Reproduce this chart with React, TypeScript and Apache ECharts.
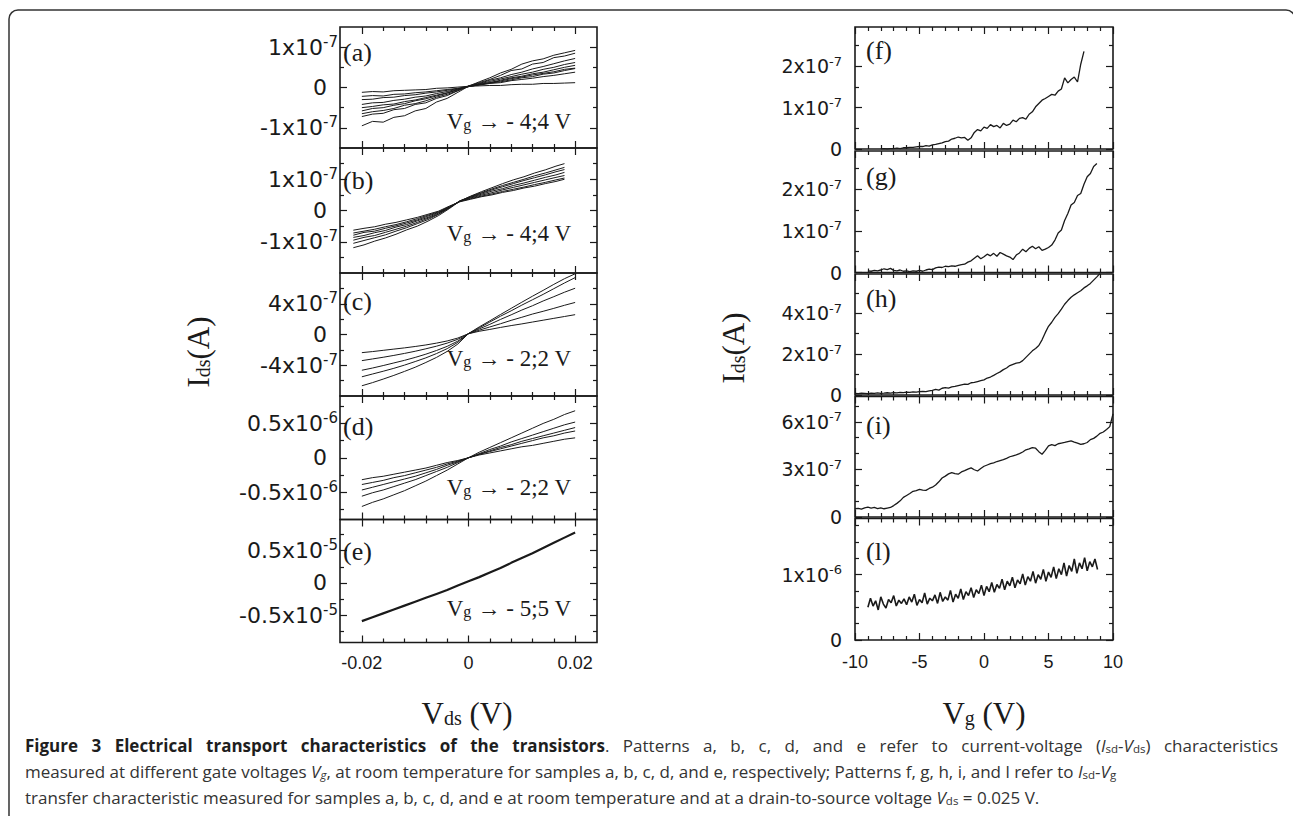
import { useEffect, useRef } from "react";
import * as echarts from "echarts";

// ---------------- data ----------------
// drain-source voltage samples (V) for panels a, c, d, e
const VDS = [-0.02, -0.018, -0.016, -0.014, -0.012, -0.01, -0.008, -0.006, -0.004, -0.002, 0, 0.002, 0.004, 0.006, 0.008, 0.01, 0.012, 0.014, 0.016, 0.018, 0.02];
// panel b samples (V)
const VDS_B = [-0.0216, -0.0196, -0.0176, -0.0156, -0.0136, -0.0116, -0.0096, -0.0076, -0.0056, -0.0036, -0.0016, 0.0004, 0.0024, 0.0044, 0.0064, 0.0084, 0.0104, 0.0124, 0.0144, 0.0164, 0.018];
const VDS_MAJOR = [-0.02, 0, 0.02];
const VDS_MINOR = [-0.016, -0.012, -0.008, -0.004, 0.004, 0.008, 0.012, 0.016];

// gate voltage samples (V) for panels f..i
const VG = [-10, -9.75, -9.5, -9.25, -9, -8.75, -8.5, -8.25, -8, -7.75, -7.5, -7.25, -7, -6.75, -6.5, -6.25, -6, -5.75, -5.5, -5.25, -5, -4.75, -4.5, -4.25, -4, -3.75, -3.5, -3.25, -3, -2.75, -2.5, -2.25, -2, -1.75, -1.5, -1.25, -1, -0.75, -0.5, -0.25, 0, 0.25, 0.5, 0.75, 1, 1.25, 1.5, 1.75, 2, 2.25, 2.5, 2.75, 3, 3.25, 3.5, 3.75, 4, 4.25, 4.5, 4.75, 5, 5.25, 5.5, 5.75, 6, 6.25, 6.5, 6.75, 7, 7.25, 7.5, 7.75, 8, 8.25, 8.5, 8.75, 9, 9.25, 9.5, 9.75, 10];
// gate voltage samples (V) for panel l
const VL = [-9, -8.8, -8.6, -8.4, -8.2, -8, -7.8, -7.6, -7.4, -7.2, -7, -6.8, -6.6, -6.4, -6.2, -6, -5.8, -5.6, -5.4, -5.2, -5, -4.8, -4.6, -4.4, -4.2, -4, -3.8, -3.6, -3.4, -3.2, -3, -2.8, -2.6, -2.4, -2.2, -2, -1.8, -1.6, -1.4, -1.2, -1, -0.8, -0.6, -0.4, -0.2, 0, 0.2, 0.4, 0.6, 0.8, 1, 1.2, 1.4, 1.6, 1.8, 2, 2.2, 2.4, 2.6, 2.8, 3, 3.2, 3.4, 3.6, 3.8, 4, 4.2, 4.4, 4.6, 4.8, 5, 5.2, 5.4, 5.6, 5.8, 6, 6.2, 6.4, 6.6, 6.8, 7, 7.2, 7.4, 7.6, 7.8, 8, 8.2, 8.4, 8.6, 8.8];
const VG_MAJOR = [-10, -5, 0, 5, 10];
const VG_MINOR = [-9, -8, -7, -6, -4, -3, -2, -1, 1, 2, 3, 4, 6, 7, 8, 9];

// (a) Ids in 1e-7 A
const A_CURVES = [
  [-0.12, -0.10, -0.11, -0.08, -0.07, -0.06, -0.05, -0.02, -0.01, 0.01, 0.03, 0.04, 0.05, 0.05, 0.07, 0.08, 0.08, 0.10, 0.10, 0.11, 0.12],
  [-0.22, -0.20, -0.21, -0.17, -0.16, -0.13, -0.11, -0.08, -0.05, -0.02, 0.03, 0.06, 0.10, 0.12, 0.17, 0.20, 0.23, 0.27, 0.30, 0.34, 0.38],
  [-0.30, -0.29, -0.25, -0.24, -0.20, -0.18, -0.14, -0.11, -0.07, -0.03, 0.02, 0.07, 0.11, 0.14, 0.19, 0.24, 0.27, 0.33, 0.36, 0.42, 0.47],
  [-0.42, -0.38, -0.37, -0.32, -0.29, -0.24, -0.21, -0.15, -0.10, -0.04, 0.03, 0.08, 0.12, 0.18, 0.24, 0.28, 0.34, 0.38, 0.44, 0.50, 0.55],
  [-0.50, -0.47, -0.43, -0.41, -0.35, -0.31, -0.25, -0.19, -0.13, -0.05, 0.03, 0.09, 0.15, 0.21, 0.27, 0.33, 0.38, 0.45, 0.50, 0.57, 0.62],
  [-0.58, -0.52, -0.50, -0.44, -0.40, -0.33, -0.28, -0.21, -0.14, -0.06, 0.02, 0.07, 0.12, 0.16, 0.22, 0.26, 0.31, 0.35, 0.39, 0.45, 0.48],
  [-0.65, -0.60, -0.57, -0.52, -0.44, -0.40, -0.33, -0.24, -0.17, -0.08, 0.03, 0.10, 0.18, 0.24, 0.32, 0.38, 0.46, 0.52, 0.59, 0.66, 0.72],
  [-0.72, -0.66, -0.64, -0.55, -0.52, -0.42, -0.38, -0.27, -0.20, -0.08, 0.04, 0.12, 0.20, 0.30, 0.42, 0.46, 0.58, 0.62, 0.74, 0.78, 0.85],
  [-0.95, -0.84, -0.86, -0.74, -0.70, -0.58, -0.52, -0.36, -0.27, -0.12, 0.03, 0.14, 0.24, 0.36, 0.45, 0.58, 0.66, 0.71, 0.80, 0.86, 0.92],
];
// (b) Ids in 1e-7 A
const B_CURVES = [
  [-0.63, -0.57, -0.52, -0.44, -0.38, -0.30, -0.22, -0.12, -0.02, 0.14, 0.28, 0.36, 0.44, 0.50, 0.58, 0.64, 0.72, 0.78, 0.86, 0.93, 1.00],
  [-0.72, -0.66, -0.60, -0.52, -0.45, -0.36, -0.26, -0.15, -0.04, 0.12, 0.29, 0.38, 0.46, 0.53, 0.61, 0.68, 0.75, 0.83, 0.90, 0.98, 1.04],
  [-0.79, -0.70, -0.66, -0.57, -0.49, -0.40, -0.30, -0.18, -0.06, 0.10, 0.30, 0.40, 0.49, 0.57, 0.66, 0.74, 0.82, 0.90, 0.98, 1.06, 1.12],
  [-0.86, -0.80, -0.71, -0.64, -0.53, -0.45, -0.33, -0.22, -0.08, 0.10, 0.31, 0.42, 0.52, 0.62, 0.70, 0.80, 0.88, 0.97, 1.06, 1.14, 1.22],
  [-0.95, -0.86, -0.80, -0.70, -0.60, -0.50, -0.38, -0.25, -0.11, 0.09, 0.30, 0.43, 0.55, 0.66, 0.76, 0.86, 0.96, 1.05, 1.14, 1.24, 1.31],
  [-1.05, -0.96, -0.87, -0.78, -0.66, -0.55, -0.42, -0.29, -0.12, 0.08, 0.31, 0.45, 0.57, 0.69, 0.80, 0.90, 1.00, 1.11, 1.20, 1.30, 1.38],
  [-1.19, -1.10, -0.98, -0.88, -0.76, -0.62, -0.50, -0.34, -0.16, 0.06, 0.30, 0.46, 0.60, 0.73, 0.86, 0.98, 1.08, 1.20, 1.30, 1.42, 1.50],
];
// (c) Ids in 1e-7 A
const C_CURVES = [
  [-2.36, -2.22, -2.06, -1.90, -1.74, -1.56, -1.36, -1.12, -0.84, -0.46, 0.10, 0.42, 0.66, 0.92, 1.16, 1.38, 1.62, 1.86, 2.10, 2.34, 2.58],
  [-3.40, -3.18, -2.96, -2.72, -2.46, -2.18, -1.86, -1.52, -1.12, -0.62, 0.10, 0.56, 0.98, 1.40, 1.84, 2.24, 2.66, 3.02, 3.40, 3.80, 4.17],
  [-4.65, -4.36, -4.04, -3.70, -3.36, -2.98, -2.56, -2.08, -1.54, -0.86, 0.12, 0.72, 1.32, 1.96, 2.56, 3.18, 3.74, 4.36, 4.92, 5.50, 6.02],
  [-5.50, -5.14, -4.78, -4.40, -3.98, -3.52, -3.04, -2.48, -1.84, -1.02, 0.12, 0.86, 1.62, 2.38, 3.08, 3.82, 4.52, 5.22, 5.96, 6.70, 7.40],
  [-6.67, -6.26, -5.80, -5.32, -4.80, -4.26, -3.64, -2.98, -2.20, -1.24, 0.12, 0.98, 1.78, 2.60, 3.40, 4.20, 4.98, 5.74, 6.52, 7.26, 7.90],
];
// (d) Ids in 1e-6 A
const D_CURVES = [
  [-0.32, -0.29, -0.27, -0.24, -0.21, -0.18, -0.15, -0.11, -0.07, -0.04, 0.00, 0.04, 0.07, 0.10, 0.13, 0.16, 0.18, 0.21, 0.24, 0.27, 0.29],
  [-0.39, -0.36, -0.33, -0.29, -0.26, -0.22, -0.18, -0.14, -0.09, -0.05, 0.00, 0.05, 0.09, 0.13, 0.17, 0.21, 0.25, 0.29, 0.32, 0.36, 0.39],
  [-0.47, -0.43, -0.39, -0.35, -0.31, -0.27, -0.22, -0.17, -0.11, -0.06, 0.00, 0.05, 0.10, 0.15, 0.19, 0.24, 0.28, 0.32, 0.36, 0.40, 0.44],
  [-0.56, -0.51, -0.47, -0.42, -0.37, -0.32, -0.26, -0.20, -0.14, -0.07, 0.00, 0.06, 0.12, 0.17, 0.23, 0.28, 0.33, 0.38, 0.43, 0.48, 0.52],
  [-0.71, -0.65, -0.60, -0.54, -0.48, -0.41, -0.34, -0.26, -0.18, -0.09, 0.00, 0.08, 0.15, 0.22, 0.29, 0.36, 0.43, 0.50, 0.56, 0.63, 0.685],
];
// (e) Ids in 1e-5 A
const E_CURVES = [
  [-0.59, -0.53, -0.47, -0.41, -0.35, -0.29, -0.23, -0.17, -0.11, -0.04, 0.025, 0.09, 0.16, 0.23, 0.31, 0.385, 0.46, 0.54, 0.62, 0.70, 0.78],
];

// (f) Ids in 1e-7 A, starting at Vg = -8
const F_START = -8;
const F_Y = [0.00, 0.01, 0.00, 0.01, 0.01, 0.02, 0.01, 0.03, 0.03, 0.04, 0.04, 0.05, 0.06, 0.06, 0.08, 0.07, 0.10, 0.11, 0.13, 0.15, 0.18, 0.19, 0.24, 0.26, 0.29, 0.27, 0.28, 0.21, 0.27, 0.40, 0.47, 0.44, 0.53, 0.50, 0.59, 0.54, 0.57, 0.51, 0.62, 0.57, 0.60, 0.70, 0.66, 0.74, 0.76, 0.72, 0.84, 0.90, 1.02, 1.10, 1.18, 1.22, 1.27, 1.32, 1.30, 1.40, 1.45, 1.72, 1.60, 1.68, 1.74, 1.62, 2.05, 2.36];
// (g) Ids in 1e-7 A, starting at Vg = -9
const G_START = -9;
const G_Y = [0.04, 0.03, 0.05, 0.04, 0.06, 0.09, 0.07, 0.10, 0.05, 0.04, 0.06, 0.03, 0.04, 0.02, 0.04, 0.03, 0.05, 0.03, 0.06, 0.08, 0.07, 0.11, 0.13, 0.12, 0.15, 0.14, 0.16, 0.15, 0.17, 0.19, 0.20, 0.25, 0.28, 0.34, 0.40, 0.33, 0.38, 0.44, 0.40, 0.46, 0.39, 0.48, 0.44, 0.40, 0.37, 0.31, 0.42, 0.47, 0.56, 0.50, 0.58, 0.63, 0.57, 0.62, 0.53, 0.56, 0.60, 0.66, 0.78, 0.95, 1.02, 1.25, 1.42, 1.62, 1.68, 1.85, 1.90, 2.12, 2.30, 2.38, 2.55, 2.62];
// (h) Ids in 1e-7 A, starting at Vg = -10
const H_START = -10;
const H_Y = [0.08, 0.07, 0.09, 0.08, 0.07, 0.09, 0.08, 0.10, 0.08, 0.09, 0.11, 0.09, 0.12, 0.10, 0.13, 0.12, 0.14, 0.13, 0.15, 0.14, 0.16, 0.18, 0.17, 0.20, 0.23, 0.28, 0.24, 0.33, 0.36, 0.34, 0.40, 0.42, 0.46, 0.50, 0.53, 0.52, 0.60, 0.62, 0.66, 0.70, 0.74, 0.83, 0.88, 0.96, 1.05, 1.13, 1.24, 1.32, 1.44, 1.50, 1.56, 1.58, 1.68, 1.84, 2.00, 2.16, 2.28, 2.42, 2.70, 3.05, 3.36, 3.56, 3.80, 3.98, 4.20, 4.44, 4.62, 4.78, 4.90, 5.00, 5.10, 5.24, 5.34, 5.46, 5.62, 5.78, 5.95];
// (i) Ids in 1e-7 A, starting at Vg = -10
const I_START = -10;
const I_Y = [0.52, 0.55, 0.50, 0.58, 0.62, 0.56, 0.60, 0.53, 0.58, 0.52, 0.56, 0.60, 0.72, 0.86, 1.02, 1.24, 1.36, 1.48, 1.62, 1.66, 1.74, 1.70, 1.68, 1.80, 1.88, 2.02, 2.22, 2.46, 2.58, 2.72, 2.80, 2.74, 2.70, 2.84, 2.92, 3.02, 3.10, 2.98, 2.90, 3.06, 3.20, 3.28, 3.36, 3.42, 3.50, 3.56, 3.62, 3.70, 3.80, 3.86, 3.92, 4.00, 4.10, 4.24, 4.30, 4.38, 4.34, 4.12, 3.96, 4.20, 4.48, 4.56, 4.50, 4.62, 4.66, 4.70, 4.76, 4.80, 4.72, 4.66, 4.58, 4.62, 4.70, 4.88, 4.96, 5.10, 5.28, 5.36, 5.52, 5.70, 6.50];
// (l) Ids in 1e-6 A, one value per VL sample
const L_Y = [0.50, 0.64, 0.52, 0.60, 0.46, 0.66, 0.55, 0.49, 0.62, 0.57, 0.68, 0.52, 0.61, 0.56, 0.63, 0.54, 0.66, 0.58, 0.70, 0.53, 0.62, 0.57, 0.72, 0.55, 0.64, 0.60, 0.69, 0.56, 0.73, 0.59, 0.66, 0.61, 0.76, 0.58, 0.70, 0.64, 0.78, 0.62, 0.74, 0.68, 0.80, 0.65, 0.77, 0.71, 0.84, 0.68, 0.82, 0.74, 0.88, 0.73, 0.85, 0.79, 0.93, 0.77, 0.90, 0.83, 0.96, 0.80, 0.92, 0.86, 1.01, 0.84, 0.97, 0.90, 1.05, 0.87, 1.00, 0.93, 1.08, 0.90, 1.04, 0.96, 1.12, 0.94, 1.09, 1.00, 1.18, 0.98, 1.14, 1.05, 1.24, 1.02, 1.18, 1.09, 1.26, 1.06, 1.20, 1.12, 1.24, 1.08];

// y-axis tick values per panel (in the panel's unit)
const A_TICKS = [-1, 0, 1], A_MINOR = [-0.5, 0.5];
const B_TICKS = [-1, 0, 1], B_MINOR = [-1.5, -0.5, 0.5, 1.5];
const C_TICKS = [-4, 0, 4], C_MINOR = [-6, -2, 2, 6];
const D_TICKS = [-0.5, 0, 0.5], D_MINOR = [-0.75, -0.25, 0.25, 0.75];
const E_TICKS = [-0.5, 0, 0.5], E_MINOR = [-0.75, -0.25, 0.25, 0.75];
const F_TICKS = [0, 1, 2], F_MINOR = [0.5, 1.5, 2.5];
const G_TICKS = [0, 1, 2], G_MINOR = [0.5, 1.5, 2.5];
const H_TICKS = [0, 2, 4], H_MINOR = [1, 3, 5];
const I_TICKS = [0, 3, 6], I_MINOR = [1, 2, 4, 5, 7];
const L_TICKS = [0, 1], L_MINOR = [0.25, 0.5, 0.75, 1.25, 1.5, 1.75];

// texts
const PANEL_TAGS = ["(a)", "(b)", "(c)", "(d)", "(e)", "(f)", "(g)", "(h)", "(i)", "(l)"];
const NOTES = ["- 4;4 V", "- 4;4 V", "- 2;2 V", "- 2;2 V", "- 5;5 V"];
type Seg = [string, string];
const CAPTION: Seg[][] = [
  [["b", "Figure 3 Electrical transport characteristics of the transistors"], ["n", ". Patterns a, b, c, d, and e refer to current-voltage ("], ["i", "I"], ["s", "sd"], ["n", "-"], ["i", "V"], ["s", "ds"], ["n", ") characteristics"]],
  [["n", "measured at different gate voltages "], ["i", "V"], ["si", "g"], ["n", ", at room temperature for samples a, b, c, d, and e, respectively; Patterns f, g, h, i, and l refer to "], ["i", "I"], ["s", "sd"], ["n", "-"], ["i", "V"], ["s", "g"]],
  [["n", "transfer characteristic measured for samples a, b, c, d, and e at room temperature and at a drain-to-source voltage "], ["i", "V"], ["s", "ds"], ["n", " = 0.025 V."]],
];

// ---------------- styling ----------------
const SERIF = '"Liberation Serif", "Times New Roman", serif';
const SANS = '"Liberation Sans", Arial, sans-serif';
const WIDE = '"DejaVu Sans", "Liberation Sans", sans-serif';
const CAP = '"Open Sans", "Noto Sans", sans-serif';
const INK = "#1a1a1a";

const fromVg = (xs: number[], start: number, ys: number[]) => {
  const i0 = xs.indexOf(start);
  return ys.map((y, i) => [xs[i0 + i], y]);
};
const fromVds = (xs: number[], ys: number[]) => ys.map((y, i) => [xs[i], y]);

type Panel = {
  side: "left" | "right";
  top: number;
  height: number;
  yMin: number;
  yMax: number;
  ticks: number[];
  minor: number[];
  exp: string;
  lines: number[][][];
  lw: number;
  bottom?: boolean;
};

const LEFT = { left: 340, width: 257 };
const RIGHT = { left: 855, width: 258 };

const PANELS: Panel[] = [
  { side: "left", top: 27, height: 121, yMin: -1.5, yMax: 1.5, ticks: A_TICKS, minor: A_MINOR, exp: "-7", lines: A_CURVES.map((c) => fromVds(VDS, c)), lw: 1 },
  { side: "left", top: 148, height: 125, yMin: -2, yMax: 2, ticks: B_TICKS, minor: B_MINOR, exp: "-7", lines: B_CURVES.map((c) => fromVds(VDS_B, c)), lw: 1 },
  { side: "left", top: 273, height: 123, yMin: -8, yMax: 8, ticks: C_TICKS, minor: C_MINOR, exp: "-7", lines: C_CURVES.map((c) => fromVds(VDS, c)), lw: 1 },
  { side: "left", top: 396, height: 123.5, yMin: -0.9, yMax: 0.9, ticks: D_TICKS, minor: D_MINOR, exp: "-6", lines: D_CURVES.map((c) => fromVds(VDS, c)), lw: 1 },
  { side: "left", top: 519.5, height: 123, yMin: -0.92, yMax: 0.98, ticks: E_TICKS, minor: E_MINOR, exp: "-5", lines: E_CURVES.map((c) => fromVds(VDS, c)), lw: 2.2, bottom: true },
  { side: "right", top: 27, height: 122, yMin: 0, yMax: 2.95, ticks: F_TICKS, minor: F_MINOR, exp: "-7", lines: [fromVg(VG, F_START, F_Y)], lw: 1.3 },
  { side: "right", top: 151, height: 121.5, yMin: 0, yMax: 2.92, ticks: G_TICKS, minor: G_MINOR, exp: "-7", lines: [fromVg(VG, G_START, G_Y)], lw: 1.3 },
  { side: "right", top: 274, height: 121, yMin: 0, yMax: 5.92, ticks: H_TICKS, minor: H_MINOR, exp: "-7", lines: [fromVg(VG, H_START, H_Y)], lw: 1.3 },
  { side: "right", top: 396.5, height: 120.5, yMin: 0, yMax: 7.6, ticks: I_TICKS, minor: I_MINOR, exp: "-7", lines: [fromVg(VG, I_START, I_Y)], lw: 1.3 },
  { side: "right", top: 518.5, height: 121.5, yMin: 0, yMax: 1.86, ticks: L_TICKS, minor: L_MINOR, exp: "-6", lines: [fromVg(VL, -9, L_Y)], lw: 1.6, bottom: true },
];

function mkAxis(gi: number, pos: string, min: number, max: number, ticks: number[], len: number, label: any) {
  return {
    type: "value",
    gridIndex: gi,
    position: pos,
    min,
    max,
    axisLine: { show: false, onZero: false },
    splitLine: { show: false },
    minorTick: { show: false },
    axisTick: { show: true, inside: true, length: len, customValues: ticks, lineStyle: { color: INK, width: 1.2 } },
    axisLabel: label ? { ...label, customValues: ticks } : { show: false },
  };
}

function buildOption() {
  const grid: any[] = [];
  const xAxis: any[] = [];
  const yAxis: any[] = [];
  const series: any[] = [];
  PANELS.forEach((p, gi) => {
    const isLeft = p.side === "left";
    const g = isLeft ? LEFT : RIGHT;
    grid.push({ left: g.left, width: g.width, top: p.top, height: p.height, show: true, borderColor: INK, borderWidth: 1.6, containLabel: false });
    const xMin = isLeft ? -0.0241 : -10;
    const xMax = isLeft ? 0.0241 : 10;
    const xMaj = isLeft ? VDS_MAJOR : VG_MAJOR;
    const xMin2 = isLeft ? VDS_MINOR : VG_MINOR;
    const xLabel = p.bottom
      ? { show: true, fontFamily: SANS, fontSize: 18, color: INK, margin: isLeft ? 11 : 13 }
      : null;
    const xi = xAxis.length;
    xAxis.push(mkAxis(gi, "bottom", xMin, xMax, xMaj, 7, xLabel));
    xAxis.push(mkAxis(gi, "bottom", xMin, xMax, xMin2, 4, null));
    xAxis.push(mkAxis(gi, "top", xMin, xMax, xMaj, 7, null));
    xAxis.push(mkAxis(gi, "top", xMin, xMax, xMin2, 4, null));
    const fsB = isLeft ? 22 : 19;
    const fsS = isLeft ? 15 : 13;
    const lh = fsB + 3;
    const padZ = isLeft ? 11 : 0;
    const yLabel = {
      show: true,
      margin: isLeft ? 2 : 13,
      fontFamily: WIDE,
      fontSize: fsB,
      color: INK,
      formatter: (v: number) => (Math.abs(v) < 1e-12 ? "{z|0}" : `{b|${v}x10}{s|${p.exp}}`),
      rich: {
        b: { fontFamily: WIDE, fontSize: fsB, lineHeight: lh, color: INK },
        s: { fontFamily: WIDE, fontSize: fsS, lineHeight: fsS, padding: [0, 0, lh - fsS + 1, 0], color: INK },
        z: { fontFamily: WIDE, fontSize: fsB, lineHeight: lh, padding: [0, padZ, 0, 0], color: INK },
      },
    };
    const yi = yAxis.length;
    yAxis.push(mkAxis(gi, "left", p.yMin, p.yMax, p.ticks, 7, yLabel));
    yAxis.push(mkAxis(gi, "left", p.yMin, p.yMax, p.minor, 4, null));
    yAxis.push(mkAxis(gi, "right", p.yMin, p.yMax, p.ticks, 7, null));
    yAxis.push(mkAxis(gi, "right", p.yMin, p.yMax, p.minor, 4, null));
    p.lines.forEach((d) => {
      series.push({
        type: "line",
        xAxisIndex: xi,
        yAxisIndex: yi,
        data: d,
        symbol: "none",
        showSymbol: false,
        silent: true,
        clip: true,
        lineStyle: { color: INK, width: p.lw },
      });
    });
  });
  return { grid, xAxis, yAxis, series };
}

// caption styles
const CAP_FS = 17;
const CAP_SUB = 11.5;
const CAP_STYLE: Record<string, any> = {
  b: { fontFamily: CAP, fontSize: CAP_FS, fontWeight: "bold", lineHeight: 21, fill: "#1e1e1e" },
  n: { fontFamily: CAP, fontSize: CAP_FS, lineHeight: 21, fill: "#333" },
  i: { fontFamily: CAP, fontSize: CAP_FS, fontStyle: "italic", lineHeight: 21, fill: "#333" },
  s: { fontFamily: CAP, fontSize: CAP_SUB, lineHeight: CAP_SUB, padding: [8.5, 0, 1, 0], fill: "#333" },
  si: { fontFamily: CAP, fontSize: CAP_SUB, fontStyle: "italic", lineHeight: CAP_SUB, padding: [8.5, 0, 1, 0], fill: "#333" },
};
const cssFont = (st: string) => {
  const s = CAP_STYLE[st];
  return `${s.fontStyle || "normal"} ${s.fontWeight || "normal"} ${s.fontSize}px ${CAP}`;
};

function toWords(segs: Seg[]) {
  const words: Seg[][] = [];
  let cur: Seg[] = [];
  segs.forEach(([st, tx]) => {
    tx.split(" ").forEach((p, k) => {
      if (k > 0) {
        if (cur.length) words.push(cur);
        cur = [];
      }
      if (p) cur.push([st, p]);
    });
  });
  if (cur.length) words.push(cur);
  return words;
}

function buildGraphic() {
  const els: any[] = [];
  els.push({
    type: "rect",
    shape: { x: 9, y: 10, width: 1286, height: 840, r: 9 },
    style: { fill: "none", stroke: "#333", lineWidth: 1.5 },
    silent: true,
  });
  const tagY = [52, 180, 301, 426, 551, 50, 176, 298, 425, 551];
  PANEL_TAGS.forEach((t, i) => {
    els.push({
      type: "text",
      x: i < 5 ? 343 : 866,
      y: tagY[i],
      style: { text: t, fontFamily: SERIF, fontSize: 26, fill: INK, align: "left", verticalAlign: "middle" },
      silent: true,
    });
  });
  const noteY = [121, 233, 358, 487, 608];
  NOTES.forEach((n, i) => {
    els.push({
      type: "text",
      x: 571,
      y: noteY[i],
      style: {
        text: `{v|V}{g|g}{v| \u2192 ${n}}`,
        align: "right",
        verticalAlign: "middle",
        fontFamily: SERIF,
        fontSize: 23,
        fill: INK,
        rich: {
          v: { fontFamily: SERIF, fontSize: 23, lineHeight: 27, fill: INK },
          g: { fontFamily: SERIF, fontSize: 16, lineHeight: 16, padding: [9, 0, 2, 0], fill: INK },
        },
      },
      silent: true,
    });
  });
  const titleRich = {
    i: { fontFamily: SERIF, fontSize: 31, lineHeight: 36, fill: INK },
    s: { fontFamily: SERIF, fontSize: 20, lineHeight: 20, padding: [13, 0, 3, 0], fill: INK },
  };
  [[198, 352], [733, 348]].forEach(([x, y]) => {
    els.push({
      type: "text",
      x,
      y,
      rotation: Math.PI / 2,
      style: { text: "{i|I}{s|ds}{i|(A)}", align: "center", verticalAlign: "middle", fontFamily: SERIF, fontSize: 31, fill: INK, rich: titleRich },
      silent: true,
    });
  });
  els.push({
    type: "text",
    x: 467,
    y: 713,
    style: { text: "{i|V}{s|ds}{i| (V)}", align: "center", verticalAlign: "middle", fontFamily: SERIF, fontSize: 31, fill: INK, rich: titleRich },
    silent: true,
  });
  els.push({
    type: "text",
    x: 984,
    y: 713,
    style: { text: "{i|V}{s|g}{i| (V)}", align: "center", verticalAlign: "middle", fontFamily: SERIF, fontSize: 31, fill: INK, rich: titleRich },
    silent: true,
  });

  // caption: first line justified to the frame, the others at natural spacing
  const ctx = document.createElement("canvas").getContext("2d")!;
  const measure = (w: Seg[]) =>
    w.reduce((acc, [st, tx]) => {
      ctx.font = cssFont(st);
      return acc + ctx.measureText(tx).width;
    }, 0);
  ctx.font = cssFont("n");
  const spaceW = ctx.measureText(" ").width;
  const lineY = [745, 771, 797];
  const lineEnd = [1278, 0, 0];
  const capLeft = 25;
  CAPTION.forEach((segs, k) => {
    const words = toWords(segs);
    const widths = words.map(measure);
    const total = widths.reduce((a, b) => a + b, 0);
    let gap = spaceW;
    if (lineEnd[k] > 0 && words.length > 1) gap = Math.max(spaceW, (lineEnd[k] - capLeft - total) / (words.length - 1));
    let x = capLeft;
    words.forEach((w, j) => {
      els.push({
        type: "text",
        x,
        y: lineY[k],
        style: {
          text: w.map(([st, tx]) => `{${st}|${tx}}`).join(""),
          align: "left",
          verticalAlign: "middle",
          fontFamily: CAP,
          fontSize: CAP_FS,
          fill: "#333",
          rich: CAP_STYLE,
        },
        silent: true,
      });
      x += widths[j] + gap;
    });
  });
  return els;
}

export default function App() {
  const ref = useRef<HTMLDivElement>(null);
  useEffect(() => {
    document.body.style.margin = "0";
    document.body.style.overflow = "hidden";
    if (!ref.current) return;
    const chart = echarts.init(ref.current, null, { renderer: "svg" });
    const opt: any = buildOption();
    chart.setOption({
      animation: false,
      backgroundColor: "#ffffff",
      ...opt,
      graphic: { elements: buildGraphic() },
    });
    return () => chart.dispose();
  }, []);
  return <div ref={ref} style={{ width: 1293, height: 816 }} />;
}
